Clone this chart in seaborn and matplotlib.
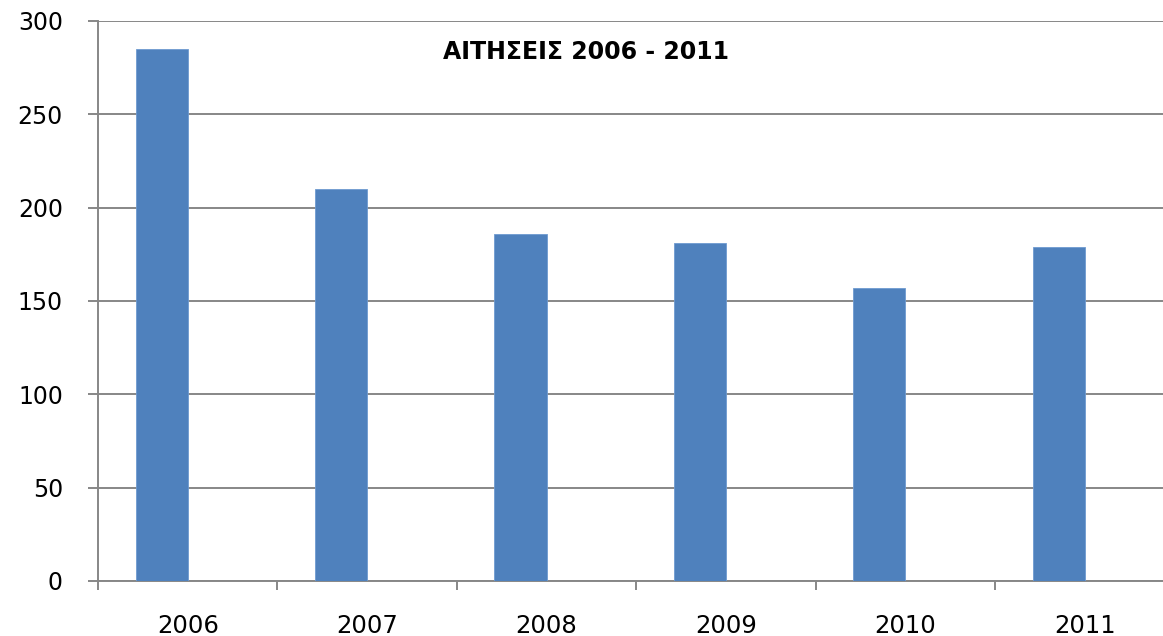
import matplotlib
matplotlib.use("Agg")
import matplotlib.pyplot as plt
import seaborn as sns
import pandas as pd
from matplotlib.ticker import FixedLocator

years = ["2006", "2007", "2008", "2009", "2010", "2011"]
applications = [285, 210, 186, 181, 157, 179]
series_names = ["Αιτήσεις", " "]
y_ticks = [0, 50, 100, 150, 200, 250, 300]
title = "ΑΙΤΗΣΕΙΣ 2006 - 2011"

df = pd.DataFrame({"year": years, "value": applications, "series": series_names[0]})

sns.set_style("white")
plt.rcParams["font.family"] = ["DejaVu Sans"]

fig = plt.figure(figsize=(11.63, 6.36), dpi=100)
# plot area runs slightly past the right edge of the canvas
ax = fig.add_axes([98 / 1163, 1 - 581 / 636, 1076.4 / 1163, 560 / 636])

sns.barplot(data=df, x="year", y="value", hue="series", hue_order=series_names,
            order=years, dodge=True, width=0.58, palette=["#4F81BD", "#C0504D"],
            saturation=1, edgecolor="#6E9AD0", linewidth=0.6, legend=False,
            ax=ax, zorder=3)

ax.set_xlim(-0.5, 5.5)
ax.set_ylim(0, 300)
ax.set_yticks(y_ticks)
ax.yaxis.grid(True, color="#878787", linewidth=1.4, zorder=0)
ax.set_axisbelow(True)
ax.set_xlabel("")
ax.set_ylabel("")

for side in ["top", "right"]:
    ax.spines[side].set_visible(False)
for side in ["left", "bottom"]:
    ax.spines[side].set_color("#878787")
    ax.spines[side].set_linewidth(1.4)

ax.tick_params(axis="y", left=True, length=7.2, width=1.4, color="#878787",
               labelsize=17, pad=18, labelcolor="black")
ax.tick_params(axis="x", which="major", bottom=True, length=0, labelsize=17.5,
               pad=24, labelcolor="black")
ax.xaxis.set_minor_locator(FixedLocator([i - 0.5 for i in range(len(years) + 1)]))
ax.tick_params(axis="x", which="minor", bottom=True, length=6.5, width=1.4,
               color="#878787")

fig.text(586 / 1163, 1 - 52 / 636, title, ha="center", va="center",
         fontsize=17, fontweight="bold", color="black")

fig.savefig("out.png", dpi=100)
